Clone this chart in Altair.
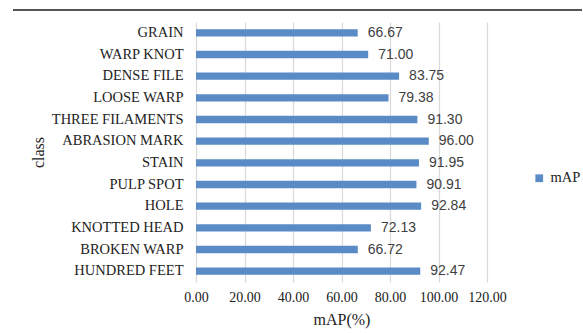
import altair as alt
import pandas as pd

classes = ["GRAIN", "WARP KNOT", "DENSE FILE", "LOOSE WARP", "THREE FILAMENTS",
           "ABRASION MARK", "STAIN", "PULP SPOT", "HOLE", "KNOTTED HEAD",
           "BROKEN WARP", "HUNDRED FEET"]
map_values = [66.67, 71.00, 83.75, 79.38, 91.30, 96.00, 91.95, 90.91, 92.84,
              72.13, 66.72, 92.47]
x_ticks = [0, 20, 40, 60, 80, 100, 120]

df = pd.DataFrame({"class": classes, "mAP": map_values, "series": "mAP"})

serif = "Liberation Serif"
sans = "Liberation Sans"
blue = "#5b8bc6"

y_enc = alt.Y("class:N", sort=classes,
              scale=alt.Scale(paddingInner=0.66, paddingOuter=0.33),
              axis=alt.Axis(title="class", titleFontSize=16,
                            titleFontWeight="normal", titleColor="#222",
                            titlePadding=14, titleX=-150,
                            labelFontSize=14.5, labelColor="#222",
                            labelPadding=13, ticks=False, domain=False, grid=False))

x_enc = alt.X("mAP:Q", scale=alt.Scale(domain=[0, 120], nice=False),
              axis=alt.Axis(title="mAP(%)", titleFontSize=16,
                            titleFontWeight="normal", titleColor="#222",
                            titlePadding=7,
                            values=x_ticks, format=".2f", labelOverlap=False,
                            labelFlush=False,
                            labelFontSize=14, labelColor="#222",
                            labelPadding=8, ticks=False, domain=False,
                            grid=True, gridColor="#d9d9d9", gridWidth=1.2))

bars = alt.Chart(df).mark_bar(color=blue).encode(
    x=x_enc, y=y_enc,
    color=alt.Color("series:N", scale=alt.Scale(range=[blue]),
                    legend=alt.Legend(title=None, orient="none",
                                      legendX=336, legendY=149,
                                      symbolType="square", symbolSize=60,
                                      labelFontSize=14.5, labelColor="#222")),
)

labels = alt.Chart(df).mark_text(align="left", baseline="middle", dx=10,
                                 font=sans, fontSize=14, color="#404040").encode(
    x="mAP:Q", y=alt.Y("class:N", sort=classes),
    text=alt.Text("mAP:Q", format=".2f"),
)

top_line = alt.Chart(df).mark_rule(color="#555", strokeWidth=1.2).encode(
    x=alt.value(-183), x2=alt.value(386), y=alt.value(-12))

chart = (bars + labels + top_line).properties(
    width=291, height=260,
    padding={"left": 196, "top": 22, "right": 96, "bottom": 51},
    autosize=alt.AutoSizeParams(type="none"),
).configure(font=serif).configure_axis(
    labelFont=serif, titleFont=serif
).configure_legend(labelFont=serif).configure_view(stroke=None)

chart.save("out.html", embed_options={"renderer": "svg", "actions": False})
